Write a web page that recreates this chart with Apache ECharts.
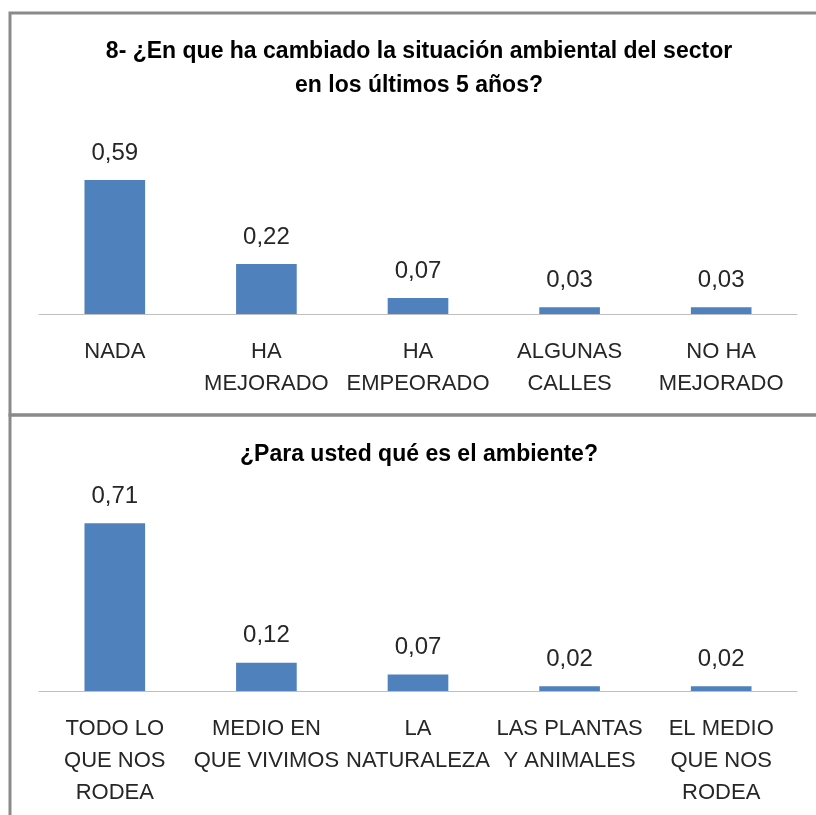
<!DOCTYPE html>
<html>
<head>
<meta charset="utf-8">
<script src="https://cdn.jsdelivr.net/npm/echarts@6/dist/echarts.min.js"></script>
<style>
  html, body { margin: 0; padding: 0; background: #fff; }
  #chart { width: 816px; height: 815px; }
</style>
</head>
<body>
<div id="chart"></div>
<script>
// data
var titleTop = ['8- ¿En que ha cambiado la situación ambiental del sector', 'en los últimos 5 años?'];
var categoriesTop = ['NADA', 'HA\nMEJORADO', 'HA\nEMPEORADO', 'ALGUNAS\nCALLES', 'NO HA\nMEJORADO'];
var valuesTop = [0.59, 0.22, 0.07, 0.03, 0.03];

var titleBottom = '¿Para usted qué es el ambiente?';
var categoriesBottom = ['TODO LO\nQUE NOS\nRODEA', 'MEDIO EN\nQUE VIVIMOS', 'LA\nNATURALEZA', 'LAS PLANTAS\nY ANIMALES', 'EL MEDIO\nQUE NOS\nRODEA'];
var valuesBottom = [0.71, 0.12, 0.07, 0.02, 0.02];

var FONT = 'Liberation Sans';
var BAR = '#4F81BD';
var TXT = '#262626';

var myChart = echarts.init(document.getElementById('chart'), null, { renderer: 'canvas' });

function fmt(p) {
    return p.value.toFixed(2).replace('.', ',');
}

function xAxisFor(idx, cats) {
    return {
        type: 'category',
        gridIndex: idx,
        data: cats,
        axisTick: { show: false },
        axisLine: { lineStyle: { color: '#BFBFBF', width: 1 } },
        axisLabel: {
            interval: 0,
            margin: 22,
            color: TXT,
            fontFamily: FONT,
            fontSize: 22,
            lineHeight: 32
        }
    };
}

function yAxisFor(idx, max) {
    return {
        type: 'value',
        gridIndex: idx,
        min: 0,
        max: max,
        show: false,
        splitLine: { show: false }
    };
}

function seriesFor(idx, vals) {
    return {
        type: 'bar',
        xAxisIndex: idx,
        yAxisIndex: idx,
        data: vals,
        barWidth: '40%',
        itemStyle: { color: BAR },
        label: {
            show: true,
            position: 'top',
            distance: 15,
            color: TXT,
            fontFamily: FONT,
            fontSize: 24,
            formatter: fmt
        },
        silent: true
    };
}

var option = {
    animation: false,
    grid: [
        { left: 39, right: 19, top: 155, bottom: 501 },
        { left: 39, right: 19, top: 502, bottom: 124 }
    ],
    xAxis: [xAxisFor(0, categoriesTop), xAxisFor(1, categoriesBottom)],
    yAxis: [yAxisFor(0, 0.7), yAxisFor(1, 0.8)],
    series: [seriesFor(0, valuesTop), seriesFor(1, valuesBottom)],
    graphic: [
        // chart frames
        { type: 'rect', shape: { x: 10, y: 13, width: 840, height: 402 },
          style: { fill: 'none', stroke: '#8A8A8A', lineWidth: 3 } },
        { type: 'rect', shape: { x: 10, y: 415, width: 840, height: 430 },
          style: { fill: 'none', stroke: '#8A8A8A', lineWidth: 3 } },
        // titles
        { type: 'text', x: 419, y: 52,
          style: { text: titleTop[0], textAlign: 'center', textVerticalAlign: 'middle',
                   font: 'bold 23px "Liberation Sans"', fill: '#000' } },
        { type: 'text', x: 419, y: 86,
          style: { text: titleTop[1], textAlign: 'center', textVerticalAlign: 'middle',
                   font: 'bold 23px "Liberation Sans"', fill: '#000' } },
        { type: 'text', x: 419, y: 455,
          style: { text: titleBottom, textAlign: 'center', textVerticalAlign: 'middle',
                   font: 'bold 23px "Liberation Sans"', fill: '#000' } }
    ]
};

myChart.setOption(option);
</script>
</body>
</html>
